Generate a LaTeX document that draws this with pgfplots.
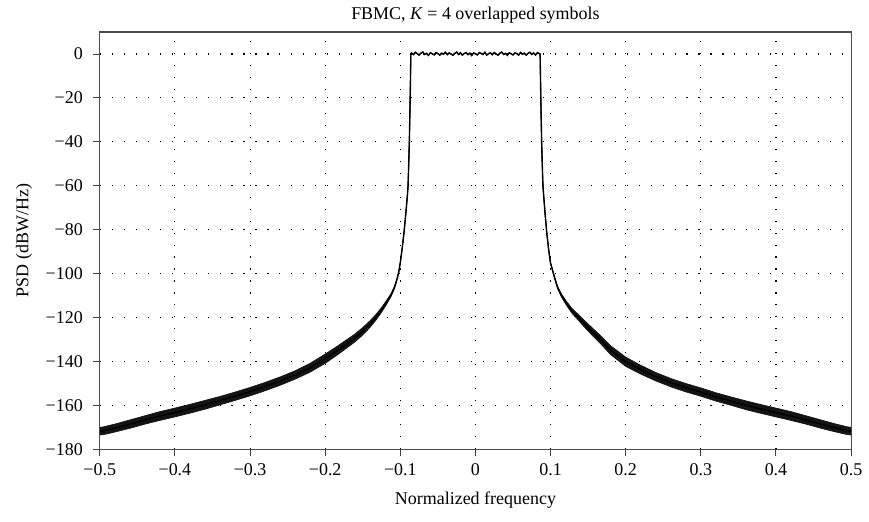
\documentclass[border=0pt]{standalone}
\usepackage{fontspec}
\setmainfont{Liberation Serif}
\usepackage{pgfplots}
\usepackage{pgfplotstable}
\pgfplotsset{compat=1.18}
\usepgfplotslibrary{fillbetween}

\pgfplotstableread{
x c h
-0.500 -171.8 1.75
-0.495 -171.6 1.75
-0.490 -171.2 1.8
-0.480 -170.4 1.8
-0.470 -169.5 1.85
-0.460 -168.6 1.9
-0.440 -166.7 1.9
-0.420 -164.9 2.0
-0.400 -163.3 2.0
-0.380 -161.6 2.0
-0.360 -159.8 2.0
-0.340 -157.9 1.9
-0.320 -155.9 1.9
-0.300 -153.8 1.9
-0.280 -151.5 1.9
-0.260 -149.0 1.9
-0.240 -146.2 1.9
-0.220 -142.9 2.0
-0.200 -138.8 2.1
-0.1835 -135.0 2.0
-0.1614 -129.6 1.8
-0.1500 -126.3 1.7
-0.1400 -122.9 1.5
-0.1326 -120.0 1.3
-0.1250 -116.6 1.1
-0.1185 -113.2 0.9
-0.1126 -110.0 0.7
-0.1080 -106.5 0.5
-0.1050 -103.3 0.35
-0.1025 -100.0 0.2
-0.1000 -95.0 0
-0.0975 -88.5 0
-0.0950 -81.0 0
-0.0925 -72.0 0
-0.0905 -64.0 0
-0.0897 -60.0 0
-0.0888 -50.0 0
-0.0880 -40.0 0
-0.0872 -26.0 0
-0.0866 -14.0 0
-0.0862 -5.0 0
-0.0861 0.0 0
-0.0850 0.5 0
-0.0825 -0.3 0
-0.0800 0.8 0
-0.0775 0.2 0
-0.0750 -0.5 0
-0.0725 0.4 0
-0.0700 0.9 0
-0.0675 -0.2 0
-0.0650 0.3 0
-0.0625 -0.6 0
-0.0600 0.6 0
-0.0575 0.1 0
-0.0550 -0.4 0
-0.0525 0.7 0
-0.0500 0.2 0
-0.0475 -0.5 0
-0.0450 0.4 0
-0.0425 -0.1 0
-0.0400 0.8 0
-0.0375 -0.3 0
-0.0350 0.5 0
-0.0325 0.0 0
-0.0300 -0.5 0
-0.0275 0.3 0
-0.0250 0.9 0
-0.0225 -0.2 0
-0.0200 0.6 0
-0.0175 -0.5 0
-0.0150 0.2 0
-0.0125 0.7 0
-0.0100 -0.3 0
-0.0075 0.4 0
-0.0050 -0.7 0
-0.0025 0.5 0
0.0000 0.1 0
0.0025 -0.4 0
0.0050 0.6 0
0.0075 0.3 0
0.0100 -0.2 0
0.0125 0.8 0
0.0150 -0.5 0
0.0175 0.2 0
0.0200 0.5 0
0.0225 -0.3 0
0.0250 0.7 0
0.0275 0.0 0
0.0300 -0.5 0
0.0325 0.4 0
0.0350 0.9 0
0.0375 -0.2 0
0.0400 0.3 0
0.0425 -0.6 0
0.0450 0.6 0
0.0475 0.1 0
0.0500 -0.4 0
0.0525 0.5 0
0.0550 0.2 0
0.0575 -0.5 0
0.0600 0.7 0
0.0625 -0.1 0
0.0650 0.4 0
0.0675 -0.5 0
0.0700 0.3 0
0.0725 0.8 0
0.0750 -0.2 0
0.0775 0.5 0
0.0800 -0.4 0
0.0825 0.6 0
0.0850 0.2 0
0.0861 0.0 0
0.0863 -5.0 0
0.0867 -14.0 0
0.0873 -26.0 0
0.0881 -40.0 0
0.0889 -50.0 0
0.0898 -60.0 0
0.0907 -64.0 0
0.0925 -72.0 0
0.0948 -81.0 0
0.0972 -88.5 0
0.0998 -95.0 0
0.1038 -100.0 0.2
0.1065 -103.3 0.35
0.1095 -106.5 0.5
0.1145 -110.0 0.7
0.1210 -113.5 0.9
0.1280 -116.8 1.1
0.1370 -120.0 1.3
0.1450 -122.9 1.5
0.1550 -126.3 1.7
0.1650 -129.6 1.8
0.1795 -134.8 2.0
0.2000 -140.2 2.1
0.220 -143.8 2.0
0.240 -147.0 1.9
0.260 -149.7 1.9
0.280 -152.0 1.9
0.300 -154.0 1.9
0.320 -156.2 1.9
0.340 -158.1 1.9
0.360 -160.0 2.0
0.380 -161.7 2.0
0.400 -163.3 2.0
0.420 -164.9 2.0
0.440 -166.7 1.9
0.460 -168.6 1.9
0.470 -169.5 1.85
0.480 -170.4 1.8
0.490 -171.2 1.8
0.495 -171.6 1.75
0.500 -171.8 1.75
}\psd

\begin{document}
\begin{tikzpicture}
\begin{axis}[
  at={(50pt,36pt)}, anchor=south west,
  scale only axis, width=376.5pt, height=209pt,
  font=\fontsize{9}{11}\selectfont,
  xmin=-0.5, xmax=0.5, ymin=-180, ymax=10,
  xtick={-0.5,-0.4,-0.3,-0.2,-0.1,0,0.1,0.2,0.3,0.4,0.5},
  xticklabels={−0.5,−0.4,−0.3,−0.2,−0.1,0,0.1,0.2,0.3,0.4,0.5},
  ytick={-180,-160,-140,-120,-100,-80,-60,-40,-20,0},
  yticklabels={−180,−160,−140,−120,−100,−80,−60,−40,−20,0},
  tick pos=left, tick align=outside,
  major tick length=3.5pt,
  tick style={black!75, line width=0.5pt},
  axis line style={black!70, line width=0.6pt},
  grid=major,
  major grid style={black, line width=0.55pt, dash pattern=on 0.55pt off 5.45pt},
  yticklabel style={xshift=-1.5pt},
  title={FBMC, \textit{K} = 4 overlapped symbols},
  title style={at={(axis description cs:0.5,1)}, anchor=base, yshift=0.5pt},
  xlabel={Normalized frequency},
  xlabel style={at={(axis description cs:0.5,0)}, anchor=base, yshift=-27.5pt},
  ylabel={PSD (dBW/Hz)},
  ylabel style={at={(axis description cs:-0.095,0.5)}, anchor=base},
]
\addplot[draw=none, name path=up, forget plot] table[x=x, y expr=\thisrow{c}+\thisrow{h}] {\psd};
\addplot[draw=none, name path=lo, forget plot] table[x=x, y expr=\thisrow{c}-\thisrow{h}] {\psd};
\addplot[fill=black!92, draw=none] fill between[of=up and lo];
\addplot[black!92, line width=0.35pt] table[x=x, y expr=\thisrow{c}+\thisrow{h}] {\psd};
\addplot[black!92, line width=0.35pt] table[x=x, y expr=\thisrow{c}-\thisrow{h}] {\psd};
\addplot[black, line width=0.7pt] table[x=x, y=c] {\psd};
\end{axis}
\path (0,0) rectangle (434.5pt,260.5pt);
\end{tikzpicture}
\end{document}
